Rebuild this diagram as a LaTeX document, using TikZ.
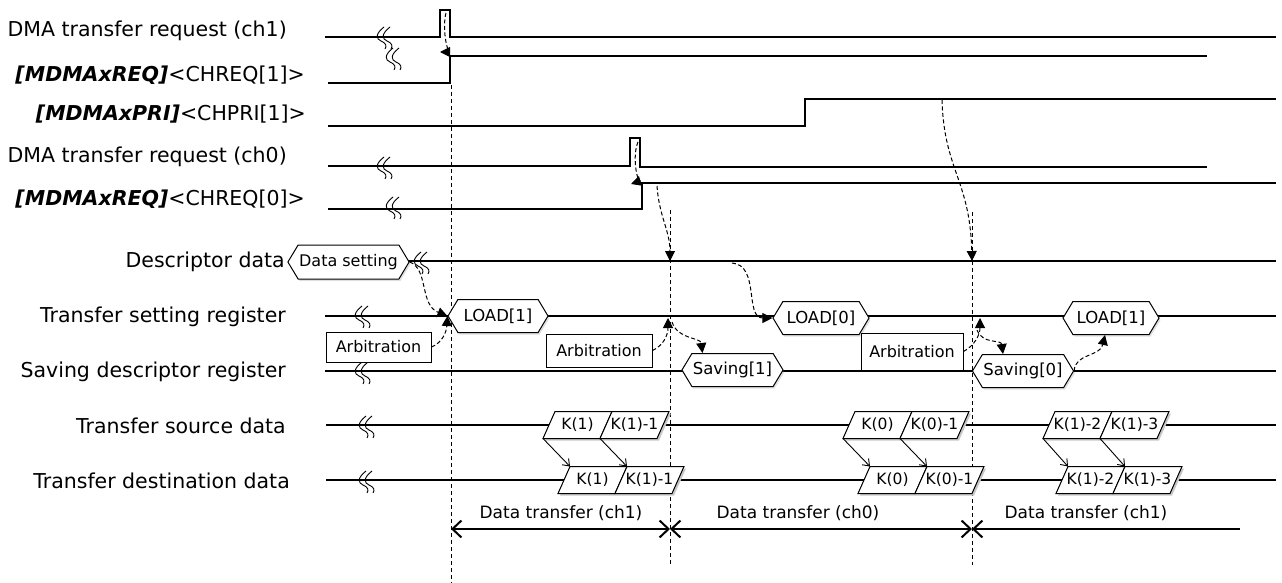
\documentclass[tikz,border=0pt]{standalone}
\usepackage{fontspec}
\setmainfont{DejaVu Sans}
\usetikzlibrary{arrows.meta,shapes.symbols,shadows,calc}

% gap mark drawn across a signal line: two wavy strokes
\newcommand\gapmark[2]{%
  \foreach \dx in {0,6}{%
    \draw[line width=0.9pt] (#1+\dx+6,#2-10) .. controls (#1+\dx-3,#2-3) and (#1+\dx-2,#2+2) .. (#1+\dx+3,#2+4)
      .. controls (#1+\dx+8,#2+6) and (#1+\dx+9,#2+9) .. (#1+\dx+7,#2+12);}}

% data cell: name, x of lower-left corner, row centre, text
\newcommand\kcell[4]{%
  \fill[black!22] (#2+2,#3+15.5) -- (#2+14,#3-11.5) -- (#2+71,#3-11.5) -- (#2+59,#3+15.5) -- cycle;
  \draw[line width=1pt, fill=white] (#2,#3+13.5) -- (#2+12,#3-13.5) -- (#2+69,#3-13.5) -- (#2+57,#3+13.5) -- cycle;
  \coordinate (#1-bl) at (#2,#3+13.5);
  \coordinate (#1-tl) at (#2+12,#3-13.5);
  \node[cellText] (#1) at (#2+34.5,#3) {#4};}

\begin{document}
\begin{tikzpicture}[x=1pt,y=-1pt,
  wave/.style={line width=1.1pt},
  guide/.style={line width=1pt, dash pattern=on 4pt off 3pt},
  cue/.style={line width=1pt, dash pattern=on 4pt off 2.5pt, -{Triangle[length=10pt,width=10pt]}},
  rowlabel/.style={anchor=east, inner sep=0pt, font=\fontsize{20.5}{24}\selectfont},
  cellText/.style={inner sep=0pt, font=\fontsize{15.5}{18}\selectfont},
  hexbox/.style={signal, signal to=west and east, signal pointer angle=118, draw, line width=1pt,
    fill=white, minimum height=33pt, inner xsep=1pt, inner ysep=0pt, font=\fontsize{16.5}{19}\selectfont,
    drop shadow={shadow xshift=1.5pt, shadow yshift=-2pt, opacity=0.25}},
  arbbox/.style={draw, line width=1pt, fill=white, inner sep=0pt, font=\fontsize{16}{19}\selectfont},
  kstep/.style={line width=0.9pt, -{Straight Barb[length=6pt,width=9pt]}},
  span/.style={line width=2pt, {Straight Barb[length=9pt,width=17pt]}-{Straight Barb[length=9pt,width=17pt]}},
  spanl/.style={line width=2pt, {Straight Barb[length=9pt,width=17pt]}-}
]
\useasboundingbox (0,0) rectangle (1282,583);

% ---- row labels
\node[rowlabel] (l1) at (287,31) {DMA transfer request (ch1)};
\node[rowlabel] (l2) at (305,75) {\textbf{\textit{[MDMAxREQ]}}<CHREQ[1]>};
\node[rowlabel] (l3) at (306,114) {\textbf{\textit{[MDMAxPRI]}}<CHPRI[1]>};
\node[rowlabel] (l4) at (287,157) {DMA transfer request (ch0)};
\node[rowlabel] (l5) at (305,199) {\textbf{\textit{[MDMAxREQ]}}<CHREQ[0]>};
\node[rowlabel] (l6) at (285,262) {Descriptor data};
\node[rowlabel] (l7) at (286,317) {Transfer setting register};
\node[rowlabel] (l8) at (286,372) {Saving descriptor register};
\node[rowlabel] (l9) at (286,426) {Transfer source data};
\node[rowlabel] (l10) at (290,481) {Transfer destination data};

% ---- vertical timing guides
\coordinate (g0a) at (451,85);  \coordinate (g0b) at (451,583);
\coordinate (g1a) at (670,210); \coordinate (g1b) at (670,565);
\coordinate (g2a) at (972,212); \coordinate (g2b) at (972,565);
\draw[guide] (g0a) -- (g0b);
\draw[guide] (g1a) -- (g1b);
\draw[guide] (g2a) -- (g2b);

% ---- waveforms
\draw[wave] (325,37) -- (440,37) -- (440,10) -- (450,10) -- (450,37) -- (1276,37);
\draw[wave] (328,83) -- (450,83) -- (450,56) -- (1207,56);
\draw[wave] (328,126) -- (805,126) -- (805,99) -- (1276,99);
\draw[wave] (328,166) -- (630,166) -- (630,138) -- (640,138) -- (640,167) -- (1207,167);
\draw[wave] (328,209) -- (642,209) -- (642,183) -- (1276,183);
\draw[wave] (400,261) -- (1276,261);
\draw[wave] (325,316) -- (1276,316);
\draw[wave] (325,371) -- (1276,371);
\draw[wave] (326,425) -- (1276,425);
\draw[wave] (326,480) -- (1276,480);

\gapmark{378}{37}
\gapmark{387}{58}
\gapmark{378}{167}
\gapmark{387}{207}
\gapmark{415}{262}
\gapmark{356}{316}
\gapmark{356}{372}
\gapmark{360}{426}
\gapmark{360}{481}

% ---- descriptor / register contents
\node[hexbox, minimum width=119pt, minimum height=34pt, font=\fontsize{16}{19}\selectfont] (ds) at (348.5,262) {Data setting};
\node[hexbox, minimum width=100pt] (ld1) at (498,316) {LOAD[1]};
\node[hexbox, minimum width=96pt] (ld0) at (821,318) {LOAD[0]};
\node[hexbox, minimum width=96pt] (ld1b) at (1111,318) {LOAD[1]};
\node[hexbox, minimum width=99pt] (sv1) at (732.5,370) {Saving[1]};
\node[hexbox, minimum width=98pt] (sv0) at (1023,371) {Saving[0]};

\node[arbbox, minimum width=105pt, minimum height=30pt] (arb1) at (378.5,347) {Arbitration};
\node[arbbox, minimum width=106pt, minimum height=33pt] (arb2) at (599,350.5) {Arbitration};
\node[arbbox, minimum width=102pt, minimum height=37pt] (arb3) at (912,351.5) {Arbitration};

% ---- transferred data cells
\kcell{s1}{543}{425}{K(1)}
\kcell{s2}{600}{425}{K(1)-1}
\kcell{s3}{843}{425}{K(0)}
\kcell{s4}{900}{425}{K(0)-1}
\kcell{s5}{1043}{425}{K(1)-2}
\kcell{s6}{1100}{425}{K(1)-3}
\kcell{d1}{558}{480}{K(1)}
\kcell{d2}{615}{480}{K(1)-1}
\kcell{d3}{858}{480}{K(0)}
\kcell{d4}{915}{480}{K(0)-1}
\kcell{d5}{1056}{480}{K(1)-2}
\kcell{d6}{1113}{480}{K(1)-3}
\foreach \i in {1,...,6}{\draw[kstep] (s\i-bl) -- (d\i-tl);}

% ---- causal links
\coordinate (p1top) at (446,13);  \coordinate (p1tip) at (440,52);
\coordinate (p0top) at (638,142); \coordinate (p0tip) at (631,184);
\coordinate (q0) at (657,186);    \coordinate (dscA) at (670,261);
\coordinate (q1) at (942,100);    \coordinate (dscB) at (972,261);
\coordinate (c2) at (668,318);    \coordinate (c2b) at (672,322);
\coordinate (c3) at (732,263);
\coordinate (c4) at (980,318);    \coordinate (c4b) at (977,330);

\draw[cue] (p1top) .. controls +(-4,15) and +(7,0) .. (p1tip);
\draw[cue] (p0top) .. controls +(-6,14) and +(6,-2) .. (p0tip);
\draw[cue] (q0) .. controls +(2,30) and +(0,-30) .. (dscA);
\draw[cue] (q1) .. controls +(2,70) and +(-2,-81) .. (dscB);
\draw[cue] (ds.east) .. controls +(19,7) and +(-28,-11) .. (ld1.west);
\draw[cue] (arb1.east) .. controls +(10,-4) and +(-1,17) .. (ld1.west);
\draw[cue] (arb2.east) .. controls +(11,-5) and +(0,17) .. (c2);
\draw[cue] (c2b) .. controls +(6,18) and +(-2,-16) .. ($(sv1.north)+(-30,0)$);
\draw[cue] (c3) .. controls +(28,2) and +(-28,0) .. (ld0.west);
\draw[cue] (arb3.east) .. controls +(11,-6) and +(0,17) .. (c4);
\draw[cue] (c4b) .. controls +(6,15) and +(-2,-15) .. ($(sv0.north)+(-20,0)$);
\draw[cue] (sv0.east) .. controls +(1,-18) and +(-5,22) .. ($(ld1b.south)+(-6,0)$);

% ---- transfer periods
\coordinate (t0) at (451,529);
\coordinate (t1) at (670,529);
\coordinate (t2) at (972,529);
\coordinate (t3) at (1240,529);
\draw[span] (t0) -- (t1);
\draw[span] (t1) -- (t2);
\draw[spanl] (t2) -- (t3);
\node[font=\fontsize{17}{20}\selectfont, inner sep=0pt] (dt1) at (561,513) {Data transfer (ch1)};
\node[font=\fontsize{17}{20}\selectfont, inner sep=0pt] (dt2) at (798,513) {Data transfer (ch0)};
\node[font=\fontsize{17}{20}\selectfont, inner sep=0pt] (dt3) at (1086,513) {Data transfer (ch1)};
\end{tikzpicture}
\end{document}
